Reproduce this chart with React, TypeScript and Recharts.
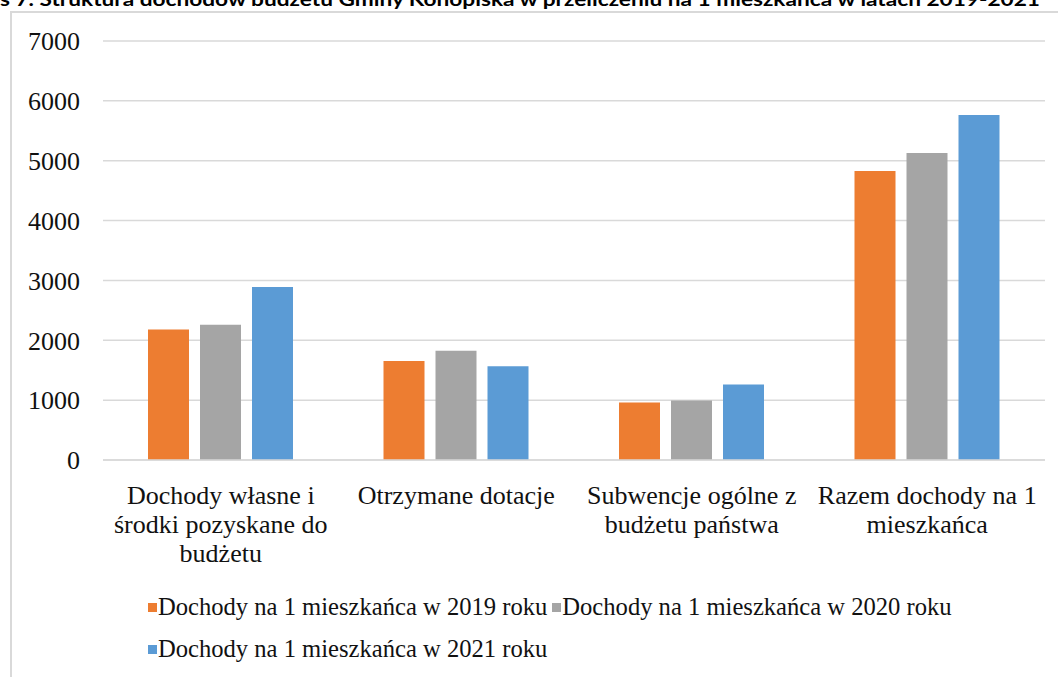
import React from "react";
import { BarChart, Bar, XAxis, YAxis, CartesianGrid, Legend } from "recharts";

const categories = [
  "Dochody własne i\nśrodki pozyskane do\nbudżetu",
  "Otrzymane dotacje",
  "Subwencje ogólne z\nbudżetu państwa",
  "Razem dochody na 1\nmieszkańca",
];
const values2019 = [2180, 1655, 960, 4830];
const values2020 = [2260, 1825, 995, 5130];
const values2021 = [2890, 1565, 1260, 5765];
const seriesNames = [
  "Dochody na 1 mieszkańca w 2019 roku",
  "Dochody na 1 mieszkańca w 2020 roku",
  "Dochody na 1 mieszkańca w 2021 roku",
];
const seriesColors = ["#ED7D31", "#A5A5A5", "#5B9BD5"];
const yTicks = [0, 1000, 2000, 3000, 4000, 5000, 6000, 7000];
const title =
  "s 7. Struktura dochodów budżetu Gminy Konopiska w przeliczeniu na 1 mieszkańca w latach 2019-2021";

const data = categories.map((name, i) => ({
  name,
  y2019: values2019[i],
  y2020: values2020[i],
  y2021: values2021[i],
}));

const serif = "'Liberation Serif', 'Times New Roman', serif";

const CategoryTick = (props: any) => {
  const { x, y, payload } = props;
  const lines = String(payload.value).split("\n");
  return (
    <text x={x} y={y} textAnchor="middle" fontFamily={serif} fontSize={26} fill="#111">
      {lines.map((line, i) => (
        <tspan key={i} x={x} dy={i === 0 ? 42 : 29}>
          {line}
        </tspan>
      ))}
    </text>
  );
};

const LegendContent = (props: any) => {
  const items = props.payload || [];
  return (
    <div
      style={{
        display: "flex",
        flexWrap: "wrap",
        fontFamily: serif,
        fontSize: 24.6,
        lineHeight: "42px",
        color: "#111",
      }}
    >
      {items.map((item: any, i: number) => (
        <span
          key={i}
          style={{ display: "inline-flex", alignItems: "center", marginRight: 5, whiteSpace: "nowrap" }}
        >
          <span style={{ width: 9, height: 9, background: item.color, marginRight: 1 }} />
          {item.value}
        </span>
      ))}
    </div>
  );
};

export default function App() {
  return (
    <div
      style={{
        position: "fixed",
        left: 0,
        top: 0,
        width: 1058,
        height: 677,
        overflow: "hidden",
        background: "#fff",
      }}
    >
      <svg width={1058} height={12} style={{ position: "absolute", left: 0, top: 0 }}>
        <text
          x={0}
          y={5.5}
          fontFamily="Lato, 'Liberation Sans', sans-serif"
          fontWeight={700}
          fontSize={19}
          fill="#000"
          textLength={1040}
          lengthAdjust="spacingAndGlyphs"
        >
          {title}
        </text>
      </svg>
      <div
        style={{
          position: "absolute",
          left: 10,
          top: 11,
          width: 1100,
          height: 700,
          borderLeft: "2px solid #d9d9d9",
          borderTop: "2px solid #d9d9d9",
        }}
      />
      <div style={{ position: "absolute", left: 0, top: 0 }}>
        <BarChart
          width={1058}
          height={677}
          data={data}
          margin={{ top: 41, right: 13, left: 10, bottom: 87 }}
          barGap={11}
          barSize={41}
        >
          <CartesianGrid vertical={false} stroke="#d9d9d9" strokeWidth={1.5} />
          <XAxis
            dataKey="name"
            interval={0}
            height={130}
            tickLine={false}
            tickSize={0}
            axisLine={{ stroke: "#d9d9d9", strokeWidth: 1.5 }}
            tick={<CategoryTick />}
          />
          <YAxis
            width={93}
            domain={[0, 7000]}
            ticks={yTicks}
            interval={0}
            axisLine={false}
            tickLine={false}
            tickSize={0}
            tickMargin={23}
            tick={{ fontFamily: serif, fontSize: 26, fill: "#111" }}
          />
          <Legend
            layout="horizontal"
            verticalAlign="middle"
            align="center"
            content={<LegendContent />}
            wrapperStyle={{ left: 148, top: 586, width: 860 }}
          />
          <Bar dataKey="y2019" name={seriesNames[0]} fill={seriesColors[0]} isAnimationActive={false} />
          <Bar dataKey="y2020" name={seriesNames[1]} fill={seriesColors[1]} isAnimationActive={false} />
          <Bar dataKey="y2021" name={seriesNames[2]} fill={seriesColors[2]} isAnimationActive={false} />
        </BarChart>
      </div>
    </div>
  );
}
